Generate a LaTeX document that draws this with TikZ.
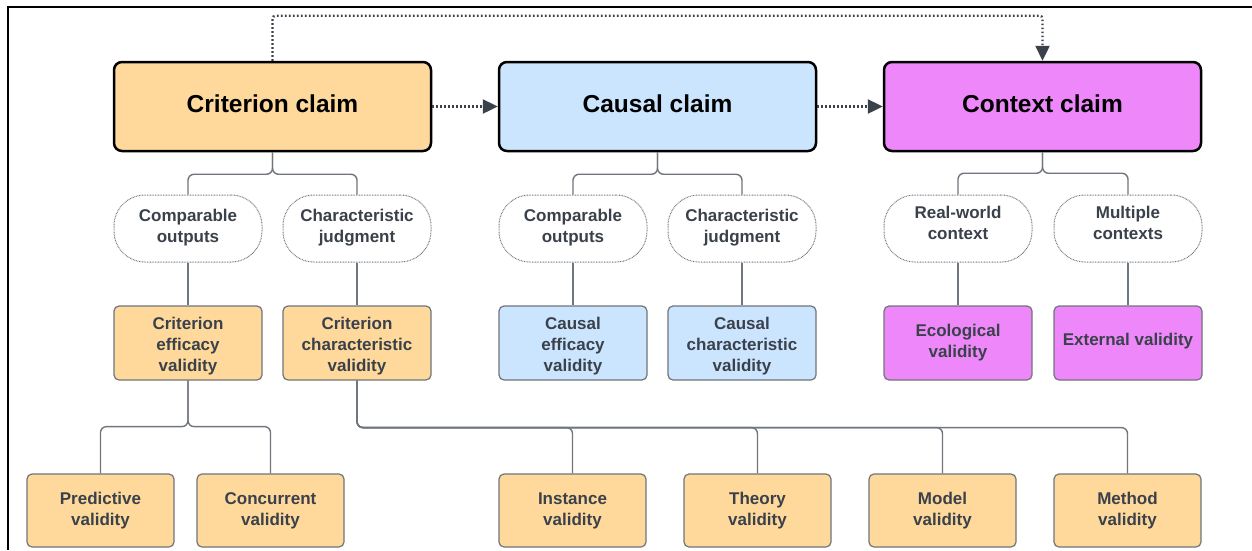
\documentclass[tikz,border=0pt]{standalone}
\usepackage{fontspec}
\setmainfont{Liberation Sans}
\usetikzlibrary{arrows.meta}
\definecolor{orng}{HTML}{FED99B}
\definecolor{blu}{HTML}{CCE5FF}
\definecolor{mag}{HTML}{EE88FA}
\definecolor{ink}{HTML}{3A414A}
\definecolor{edge}{HTML}{6F747A}
\definecolor{conncol}{HTML}{70767D}
\definecolor{pillcol}{HTML}{73787E}
\newcommand{\mylines}[2]{\raisebox{#1}[\height][\depth]{\begin{tabular}{@{}c@{}}#2\end{tabular}}}
\newcommand{\myshift}[2]{\raisebox{#1}[\height][\depth]{#2}}
\tikzset{
  claim/.style={draw=black, line width=2.5pt, rounded corners=8pt, minimum width=317pt, minimum height=89pt, inner sep=0pt, font=\fontsize{24.5}{28}\selectfont\bfseries, text=black},
  pill/.style={draw=pillcol, line width=1pt, dash pattern=on 0.8pt off 0.8pt, rounded corners=31pt, fill=white, minimum width=148pt, minimum height=67pt, inner sep=0pt, font=\fontsize{17}{21}\selectfont\bfseries, text=ink},
  vbox/.style={draw=edge, line width=1.2pt, rounded corners=5pt, minimum width=148pt, minimum height=74pt, inner sep=0pt, font=\fontsize{17}{21}\selectfont\bfseries, text=ink},
  bbox/.style={vbox, fill=orng, minimum width=147pt, minimum height=73pt},
  conn/.style={draw=conncol, line width=1.4pt, rounded corners=6pt},
  dotarrow/.style={draw=ink, line width=2.4pt, dash pattern=on 1.6pt off 2.4pt, rounded corners=3pt, -{Triangle[length=15pt,width=14pt]}}
}
\begin{document}
\begin{tikzpicture}[x=1pt,y=-1pt]
\useasboundingbox (0,0) rectangle (1252,550);
\fill[white] (0,0) rectangle (1252,550);
\draw[line width=2.2pt] (8,550) -- (8,7) -- (1252,7);

% main claims
\node[claim, fill=orng] (crit) at (272.5,106.5) {\myshift{3pt}{Criterion claim}};
\node[claim, fill=blu] (caus) at (657.5,106.5) {\myshift{3pt}{Causal claim}};
\node[claim, fill=mag] (ctx) at (1042.5,106.5) {\myshift{3pt}{Context claim}};

% pills
\node[pill] (p1) at (188,228.5) {\mylines{0.5pt}{Comparable\\outputs}};
\node[pill] (p2) at (357,228.5) {\mylines{0.5pt}{Characteristic\\judgment}};
\node[pill] (p3) at (573,228.5) {\mylines{0.5pt}{Comparable\\outputs}};
\node[pill] (p4) at (742,228.5) {\mylines{0.5pt}{Characteristic\\judgment}};
\node[pill] (p5) at (958,228.5) {\mylines{4pt}{Real-world\\context}};
\node[pill] (p6) at (1128,228.5) {\mylines{4pt}{Multiple\\contexts}};

% validity boxes
\node[vbox, fill=orng] (v1) at (188,343) {\mylines{-3pt}{Criterion\\efficacy\\validity}};
\node[vbox, fill=orng] (v2) at (357,343) {\mylines{-3pt}{Criterion\\characteristic\\validity}};
\node[vbox, fill=blu] (v3) at (573,343) {\mylines{-3pt}{Causal\\efficacy\\validity}};
\node[vbox, fill=blu] (v4) at (742,343) {\mylines{-3pt}{Causal\\characteristic\\validity}};
\node[vbox, fill=mag] (v5) at (958,343) {\mylines{0pt}{Ecological\\validity}};
\node[vbox, fill=mag] (v6) at (1128,343) {\myshift{2pt}{External validity}};

% bottom row
\node[bbox] (b1) at (100.5,510.5) {\mylines{0pt}{Predictive\\validity}};
\node[bbox] (b2) at (270.5,510.5) {\mylines{0pt}{Concurrent\\validity}};
\node[bbox] (b3) at (572.5,510.5) {\mylines{0pt}{Instance\\validity}};
\node[bbox] (b4) at (757.5,510.5) {\mylines{0pt}{Theory\\validity}};
\node[bbox] (b5) at (942.5,510.5) {\mylines{0pt}{Model\\validity}};
\node[bbox] (b6) at (1127.5,510.5) {\mylines{0pt}{Method\\validity}};

% tree connectors
\draw[conn] (crit.south) -- ++(0,22) -| (p1.north);
\draw[conn] (crit.south) -- ++(0,22) -| (p2.north);
\draw[conn] (caus.south) -- ++(0,22) -| (p3.north);
\draw[conn] (caus.south) -- ++(0,22) -| (p4.north);
\draw[conn] (ctx.south) -- ++(0,21) -| (p5.north);
\draw[conn] (ctx.south) -- ++(0,21) -| (p6.north);
\draw[conn] (p1.south) -- (v1.north);
\draw[conn] (p2.south) -- (v2.north);
\draw[conn] (p3.south) -- (v3.north);
\draw[conn] (p4.south) -- (v4.north);
\draw[conn] (p5.south) -- (v5.north);
\draw[conn] (p6.south) -- (v6.north);
\draw[conn] (v1.south) -- ++(0,46) -| (b1.north);
\draw[conn] (v1.south) -- ++(0,46) -| (b2.north);
\draw[conn] (v2.south) -- ++(0,47) -| (b3.north);
\draw[conn] (v2.south) -- ++(0,47) -| (b4.north);
\draw[conn] (v2.south) -- ++(0,47) -| (b5.north);
\draw[conn] (v2.south) -- ++(0,47) -| (b6.north);

% dotted arrows
\draw[dotarrow] (crit.east) -- (caus.west);
\draw[dotarrow] (caus.east) -- (ctx.west);
\draw[dotarrow] (crit.north) -- ++(0,-45) -| (ctx.north);
\end{tikzpicture}
\end{document}
